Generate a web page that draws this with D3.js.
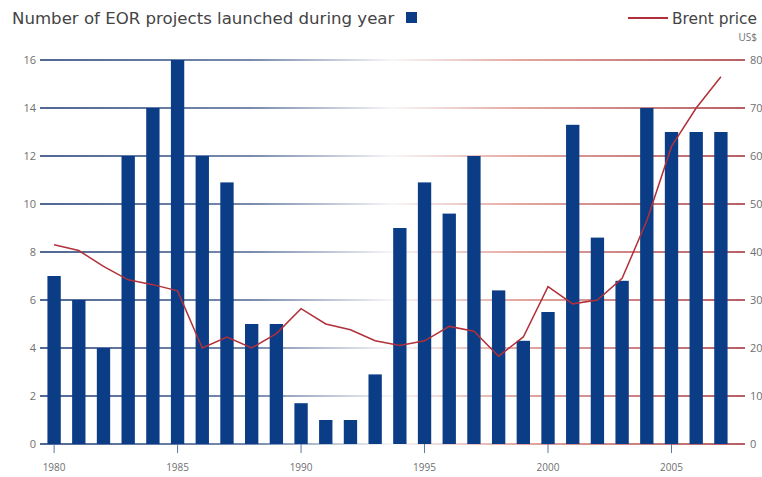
<!DOCTYPE html>
<html>
<head>
<meta charset="utf-8">
<script src="https://cdn.jsdelivr.net/npm/d3@7"></script>
<style>
  body { margin: 0; background: #fff; }
  svg { display: block; font-family: "Open Sans", "DejaVu Sans", sans-serif; }
</style>
</head>
<body>
<div id="chart"></div>
<script>
// data
var years = d3.range(1980, 2008);
var projects = [7, 6, 4, 12, 14, 16, 12, 10.9, 5, 5, 1.7, 1, 1, 2.9, 9, 10.9, 9.6, 12,
                6.4, 4.3, 5.5, 13.3, 8.6, 6.8, 14, 13, 13, 13];
var brent = [41.5, 40.3, 37, 34.2, 33.2, 31.9, 20, 22.3, 20, 23, 28.2, 25, 23.8, 21.5,
             20.5, 21.5, 24.5, 23.5, 18.3, 22.3, 32.8, 29.2, 30, 34.5, 46.5, 62, 70, 76.5];
var leftTicks = [0, 2, 4, 6, 8, 10, 12, 14, 16];
var rightTicks = [0, 10, 20, 30, 40, 50, 60, 70, 80];
var yearTicks = [1980, 1985, 1990, 1995, 2000, 2005];

var w = 762, h = 477;
var barColor = "#0b3c86", lineColor = "#b1303a", textColor = "#6f6f6f";

var svg = d3.select("#chart").append("svg")
  .attr("width", w)
  .attr("height", h);

// gridline gradient: blue on the left, fading out mid-way, red on the right
var grad = svg.append("defs").append("linearGradient")
  .attr("id", "grid")
  .attr("gradientUnits", "userSpaceOnUse")
  .attr("x1", 40).attr("x2", 745).attr("y1", 0).attr("y2", 0);
grad.append("stop").attr("offset", "0%").attr("stop-color", "#17356f");
grad.append("stop").attr("offset", "30%").attr("stop-color", "#4a6392");
grad.append("stop").attr("offset", "50%").attr("stop-color", "#f4f4f4");
grad.append("stop").attr("offset", "68%").attr("stop-color", "#d98a80");
grad.append("stop").attr("offset", "100%").attr("stop-color", "#9c2a30");

var x = d3.scaleBand()
  .domain(years)
  .range([42, 733])
  .paddingInner(0.46)
  .paddingOuter(0.22);

var yLeft = d3.scaleLinear().domain([0, 16]).range([444, 60]);
var yRight = d3.scaleLinear().domain([0, 80]).range([444, 60]);

// gridlines (also act as tick marks on both sides)
svg.selectAll("line.grid")
  .data(leftTicks)
  .enter().append("line")
  .attr("class", "grid")
  .attr("x1", 40)
  .attr("x2", 745)
  .attr("y1", function(d) { return yLeft(d) + 0.01; })
  .attr("y2", function(d) { return yLeft(d); })
  .attr("stroke", "url(#grid)")
  .attr("stroke-width", 1.5);

// left axis labels
svg.selectAll("text.left")
  .data(leftTicks)
  .enter().append("text")
  .attr("class", "left")
  .attr("x", 36)
  .attr("y", function(d) { return yLeft(d) + 4; })
  .attr("text-anchor", "end")
  .attr("font-size", "11px")
  .attr("fill", textColor)
  .text(function(d) { return d; });

// right axis labels
svg.selectAll("text.right")
  .data(rightTicks)
  .enter().append("text")
  .attr("class", "right")
  .attr("x", 750)
  .attr("y", function(d) { return yRight(d) + 4; })
  .attr("font-size", "11px")
  .attr("fill", textColor)
  .text(function(d) { return d; });

// bars
svg.selectAll("rect.bar")
  .data(projects)
  .enter().append("rect")
  .attr("class", "bar")
  .attr("x", function(d, i) { return x(years[i]); })
  .attr("y", function(d) { return yLeft(d); })
  .attr("width", x.bandwidth())
  .attr("height", function(d) { return yLeft(0) - yLeft(d); })
  .attr("fill", barColor);

// x axis ticks and labels
svg.selectAll("line.xtick")
  .data(yearTicks)
  .enter().append("line")
  .attr("class", "xtick")
  .attr("x1", function(d) { return x(d) + x.bandwidth() / 2; })
  .attr("x2", function(d) { return x(d) + x.bandwidth() / 2; })
  .attr("y1", 444)
  .attr("y2", 453)
  .attr("stroke", "#5a76a8")
  .attr("stroke-width", 1);

svg.selectAll("text.year")
  .data(yearTicks)
  .enter().append("text")
  .attr("class", "year")
  .attr("x", function(d) { return x(d) + x.bandwidth() / 2; })
  .attr("y", 471)
  .attr("text-anchor", "middle")
  .attr("font-size", "10px")
  .attr("fill", textColor)
  .text(function(d) { return d; });

// Brent price line
var line = d3.line()
  .x(function(d, i) { return x(years[i]) + x.bandwidth() / 2; })
  .y(function(d) { return yRight(d); });

svg.append("path")
  .datum(brent)
  .attr("d", line)
  .attr("fill", "none")
  .attr("stroke", lineColor)
  .attr("stroke-width", 1.5);

// legends
svg.append("text")
  .attr("x", 12)
  .attr("y", 24)
  .attr("font-family", "DejaVu Sans, sans-serif")
  .attr("font-size", "16.6px")
  .attr("fill", "#444")
  .text("Number of EOR projects launched during year");

svg.append("rect")
  .attr("x", 406)
  .attr("y", 12)
  .attr("width", 11)
  .attr("height", 11)
  .attr("fill", barColor);

svg.append("line")
  .attr("x1", 628).attr("x2", 668)
  .attr("y1", 18).attr("y2", 18)
  .attr("stroke", lineColor)
  .attr("stroke-width", 2);

svg.append("text")
  .attr("x", 757)
  .attr("y", 24)
  .attr("text-anchor", "end")
  .attr("font-family", "DejaVu Sans, sans-serif")
  .attr("font-size", "15.4px")
  .attr("fill", "#444")
  .text("Brent price");

svg.append("text")
  .attr("x", 757)
  .attr("y", 41)
  .attr("text-anchor", "end")
  .attr("font-size", "10px")
  .attr("fill", textColor)
  .text("US$");
</script>
</body>
</html>
